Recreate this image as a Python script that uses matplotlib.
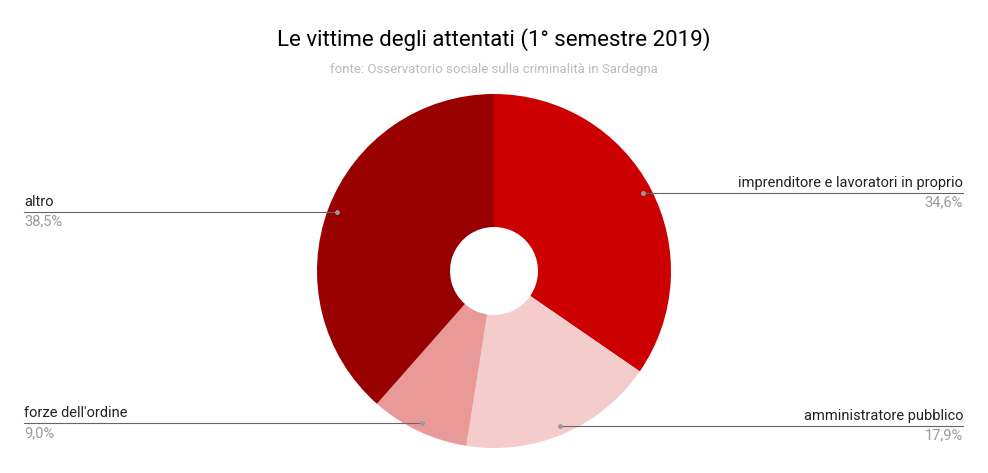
import numpy as np
import matplotlib.pyplot as plt

plt.rcParams['font.family'] = ['Roboto', 'DejaVu Sans']

labels = ['imprenditore e lavoratori in proprio', 'amministratore pubblico',
          "forze dell'ordine", 'altro']
values = [34.6, 17.9, 9.0, 38.5]
pct_text = ['34,6%', '17,9%', '9,0%', '38,5%']
colors = ['#cc0000', '#f4cccc', '#ea9999', '#990000']

W, H = 988, 473
fig = plt.figure(figsize=(W / 100, H / 100), dpi=100)
ax = fig.add_axes([0, 0, 1, 1])
ax.set_xlim(0, W)
ax.set_ylim(H, 0)
ax.axis('off')

cx, cy, r = 494, 271, 177
# y axis inverted: startangle -90 and counterclock in data = clockwise from top on screen
ax.pie(values, colors=colors, startangle=-90, counterclock=True,
       center=(cx, cy), radius=r, frame=True,
       wedgeprops=dict(width=r - 44, linewidth=0))
ax.set_xlim(0, W)
ax.set_ylim(H, 0)
ax.axis('off')

cum = np.cumsum([0] + values[:-1])
for lab, v, c0, pt in zip(labels, values, cum, pct_text):
    ang = np.deg2rad((c0 + v / 2) / 100 * 360)
    px = cx + 0.95 * r * np.sin(ang)
    py = cy - 0.95 * r * np.cos(ang)
    right = np.sin(ang) > 0
    ex = 963 if right else 24
    ax.plot([px, ex], [py, py], color='#666666', lw=0.8)
    ax.plot(px, py, 'o', color='#999999', ms=2.5)
    ha = 'right' if right else 'left'
    ax.text(ex, py - 3, lab, ha=ha, va='bottom', fontsize=10.5, color='#222222')
    ax.text(ex, py + 3, pt, ha=ha, va='top', fontsize=10.5, color='#999999')

ax.text(W / 2, 40, 'Le vittime degli attentati (1° semestre 2019)', ha='center',
        va='center', fontsize=16, color='#000000')
ax.text(W / 2, 70, 'fonte: Osservatorio sociale sulla criminalità in Sardegna',
        ha='center', va='center', fontsize=9.5, color='#bbbbbb')

fig.savefig('out.png', dpi=100, facecolor='white')
